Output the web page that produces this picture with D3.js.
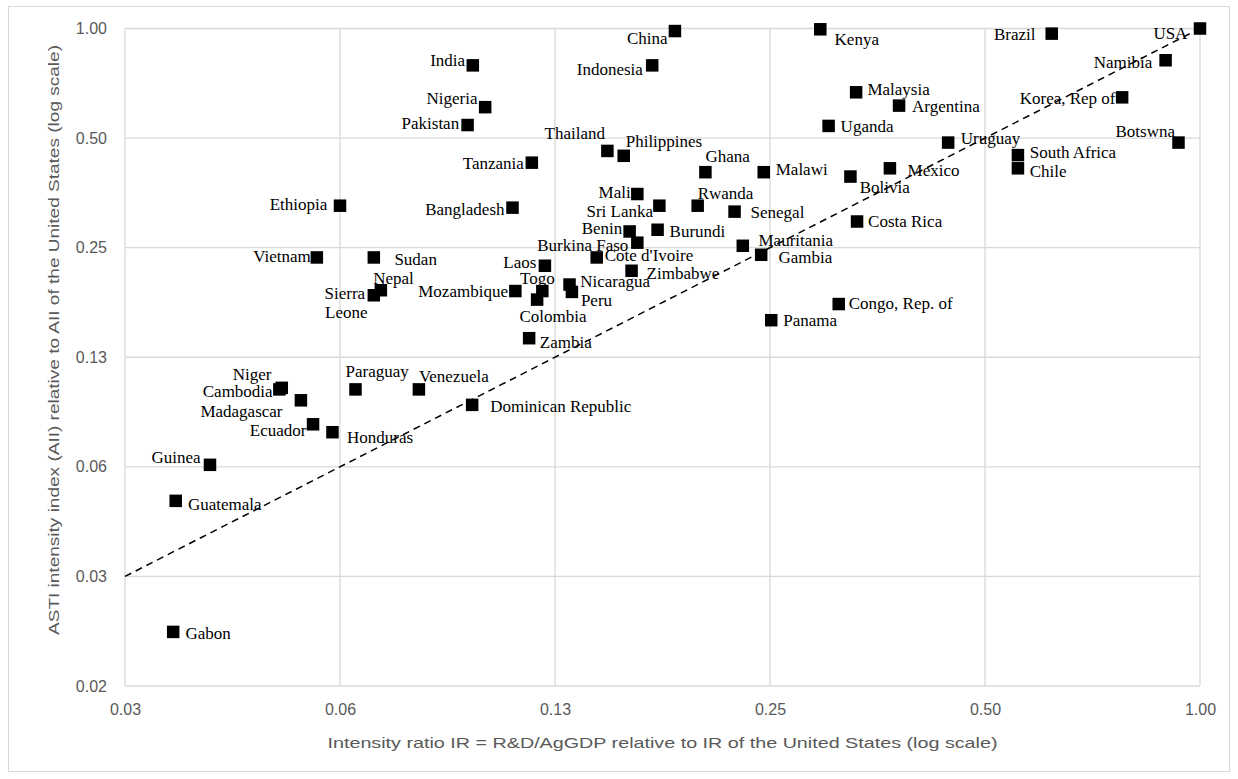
<!DOCTYPE html>
<html>
<head>
<meta charset="utf-8">
<script src="https://cdn.jsdelivr.net/npm/d3@7"></script>
<style>
  html, body { margin: 0; padding: 0; background: #ffffff; }
  svg { display: block; }
  .tick-label { font-family: "Liberation Sans", Arial, sans-serif; font-size: 16px; fill: #595959; }
  .axis-title { font-family: "Liberation Sans", Arial, sans-serif; font-size: 15px; fill: #595959; }
  .country { font-family: "Liberation Serif", "Times New Roman", serif; font-size: 17px; fill: #000000; }
</style>
</head>
<body>
<svg id="chart" width="1238" height="779"></svg>
<script>
// Countries with their R&D intensity ratio (IR, x) and ASTI intensity index (AII, y),
// both expressed relative to the United States.
const countries = [
  "USA", "China", "Indonesia", "Kenya", "Brazil", "Namibia", "Korea, Rep of",
  "Malaysia", "Argentina", "Uganda", "Uruguay", "Botswna", "South Africa", "Chile",
  "Ghana", "Malawi", "Mexico", "Bolivia", "India", "Nigeria", "Pakistan", "Tanzania",
  "Thailand", "Philippines", "Ethiopia", "Bangladesh", "Mali", "Sri Lanka", "Rwanda",
  "Senegal", "Burundi", "Benin", "Burkina Faso", "Mauritania", "Gambia", "Costa Rica",
  "Zimbabwe", "Congo, Rep. of", "Panama", "Vietnam", "Sudan", "Cote d'Ivoire", "Laos",
  "Nepal", "Sierra Leone", "Mozambique", "Togo", "Colombia", "Nicaragua", "Peru",
  "Zambia", "Niger", "Cambodia", "Madagascar", "Ecuador", "Honduras", "Paraguay",
  "Venezuela", "Dominican Republic", "Guinea", "Guatemala", "Gabon"
];

const intensityRatio = [
  1.000, 0.184, 0.171, 0.294, 0.620, 0.895, 0.778,
  0.330, 0.379, 0.302, 0.444, 0.933, 0.556, 0.556,
  0.203, 0.245, 0.368, 0.324, 0.0959, 0.0998, 0.0943, 0.116,
  0.148, 0.156, 0.0625, 0.109, 0.163, 0.175, 0.198,
  0.223, 0.174, 0.159, 0.163, 0.229, 0.243, 0.331,
  0.160, 0.312, 0.251, 0.0580, 0.0697, 0.143, 0.121,
  0.0713, 0.0697, 0.110, 0.120, 0.118, 0.131, 0.132,
  0.115, 0.0518, 0.0514, 0.0551, 0.0573, 0.0610, 0.0657,
  0.0806, 0.0957, 0.0411, 0.0368, 0.0365
];

const astiIndex = [
  1.000, 0.984, 0.792, 0.995, 0.968, 0.818, 0.647,
  0.668, 0.614, 0.540, 0.486, 0.486, 0.449, 0.413,
  0.403, 0.403, 0.413, 0.392, 0.792, 0.608, 0.543, 0.428,
  0.461, 0.447, 0.326, 0.322, 0.351, 0.326, 0.326,
  0.314, 0.280, 0.277, 0.258, 0.253, 0.239, 0.295,
  0.216, 0.175, 0.158, 0.235, 0.235, 0.235, 0.223,
  0.191, 0.185, 0.190, 0.190, 0.180, 0.198, 0.189,
  0.141, 0.103, 0.102, 0.0952, 0.0818, 0.0778, 0.102,
  0.102, 0.0925, 0.0633, 0.0504, 0.0220
];

// Axis ticks (powers of two) and their printed labels
const xTickValues = [1/32, 1/16, 1/8, 1/4, 1/2, 1];
const xTickLabels = ["0.03", "0.06", "0.13", "0.25", "0.50", "1.00"];
const yTickValues = [1/64, 1/32, 1/16, 1/8, 1/4, 1/2, 1];
const yTickLabels = ["0.02", "0.03", "0.06", "0.13", "0.25", "0.50", "1.00"];

const xTitle = "Intensity ratio IR = R&D/AgGDP relative to IR of the United States (log scale)";
const yTitle = "ASTI intensity index (AII) relative to AII of the United States (log scale)";

// Label placement next to each marker: [dx, dy, text-anchor]
const labelPlacement = {
  "USA": [-12.6, 4.3, "end"], "China": [-7.4, 7.3, "end"], "Indonesia": [-9.3, 4, "end"],
  "Kenya": [14.3, 10, "start"], "Brazil": [-16.2, 0.6, "end"], "Namibia": [-13.4, 1.4, "end"],
  "Korea, Rep of": [-6.6, 1, "end"], "Malaysia": [11.3, -3, "start"], "Argentina": [13, 0, "start"],
  "Uganda": [12, 0, "start"], "Uruguay": [12.6, -5, "start"], "Botswna": [-3.5, -12, "end"],
  "South Africa": [11.8, -3.3, "start"], "Chile": [11.8, 2.7, "start"], "Ghana": [0, -16, "start"],
  "Malawi": [12, -3, "start"], "Mexico": [17.7, 1.7, "start"], "Bolivia": [9.3, 10.8, "start"],
  "India": [-7.7, -5.3, "end"], "Nigeria": [-7.6, -9, "end"], "Pakistan": [-8.4, -2.3, "end"],
  "Tanzania": [-8, 0, "end"], "Thailand": [-2.4, -17.7, "end"], "Philippines": [2, -15, "start"],
  "Ethiopia": [-12.7, -1.7, "end"], "Bangladesh": [-8, 1.3, "end"], "Mali": [-6.7, -1.5, "end"],
  "Sri Lanka": [-6.3, 5, "end"], "Rwanda": [0, -13, "start"], "Senegal": [16, 0, "start"],
  "Burundi": [12, 1.7, "start"], "Benin": [-7.3, -3, "end"], "Burkina Faso": [-9, 2, "end"],
  "Mauritania": [15.7, -6, "start"], "Gambia": [17.3, 2, "start"], "Costa Rica": [11, 0, "start"],
  "Zimbabwe": [15, 2, "start"], "Congo, Rep. of": [10, -1.3, "start"], "Panama": [12, 0, "start"],
  "Vietnam": [-6, -1, "end"], "Sudan": [20.6, 1.3, "start"], "Cote d'Ivoire": [8, -2.5, "start"],
  "Laos": [-8.6, -4, "end"], "Nepal": [-7.7, -12.3, "start"],
  "Mozambique": [-7.4, 0, "end"], "Togo": [-22.3, -13.3, "start"], "Colombia": [-17.7, 16, "start"],
  "Nicaragua": [10.7, -3.3, "start"], "Peru": [9, 8, "start"], "Zambia": [10.7, 3.6, "start"],
  "Niger": [-10.3, -14.2, "end"], "Cambodia": [-6.7, 1.5, "end"], "Madagascar": [-18.4, 10.4, "end"],
  "Ecuador": [-6.6, 5.7, "end"], "Honduras": [14.6, 4.4, "start"], "Paraguay": [-10, -18, "start"],
  "Venezuela": [0, -13.6, "start"], "Dominican Republic": [18, 0.7, "start"],
  "Guinea": [-9.3, -7.3, "end"], "Guatemala": [12.3, 3, "start"], "Gabon": [12.3, 0.7, "start"]
};
// Names broken over two lines: each line has its own [text, dx, dy, anchor]
const multiLineLabels = {
  "Sierra Leone": [["Sierra", -8.7, -2, "end"], ["Leone", -48.7, 17, "start"]]
};

const svg = d3.select("#chart");
const plot = { left: 125, right: 1200, top: 28.5, bottom: 686 };

// Outer chart frame
svg.append("rect")
  .attr("x", 8.5).attr("y", 6.5).attr("width", 1221).attr("height", 765)
  .attr("fill", "#ffffff").attr("stroke", "#d9d9d9").attr("stroke-width", 1);

const x = d3.scaleLog().base(2).domain([1/32, 1]).range([plot.left, plot.right]);
const y = d3.scaleLog().base(2).domain([1/64, 1]).range([plot.bottom, plot.top]);

// Gridlines
const grid = svg.append("g").attr("stroke", "#d9d9d9").attr("stroke-width", 1.3);
grid.selectAll("line.v").data(xTickValues).join("line")
  .attr("x1", d => x(d)).attr("x2", d => x(d))
  .attr("y1", plot.top).attr("y2", plot.bottom);
grid.selectAll("line.h").data(yTickValues).join("line")
  .attr("x1", plot.left).attr("x2", plot.right)
  .attr("y1", d => y(d)).attr("y2", d => y(d));

// Axes (labels only; lines come from the grid)
const xAxis = d3.axisBottom(x).tickValues(xTickValues)
  .tickFormat((d, i) => xTickLabels[i]).tickSize(0).tickPadding(18);
const gx = svg.append("g").attr("transform", `translate(0,${plot.bottom})`).call(xAxis);
gx.select(".domain").remove();
gx.selectAll("text").attr("class", "tick-label").attr("font-family", null).attr("font-size", null);

const yAxis = d3.axisLeft(y).tickValues(yTickValues)
  .tickFormat((d, i) => yTickLabels[i]).tickSize(0).tickPadding(18);
const gy = svg.append("g").attr("transform", `translate(${plot.left},0)`).call(yAxis);
gy.select(".domain").remove();
gy.selectAll("text").attr("class", "tick-label").attr("font-family", null).attr("font-size", null);

// Axis titles
svg.append("text").attr("class", "axis-title")
  .attr("x", (plot.left + plot.right) / 2).attr("y", 743).attr("dy", "0.35em")
  .attr("text-anchor", "middle")
  .attr("textLength", 670).attr("lengthAdjust", "spacingAndGlyphs")
  .text(xTitle);
svg.append("text").attr("class", "axis-title")
  .attr("transform", "translate(54,340) rotate(-90)")
  .attr("dy", "0.35em").attr("text-anchor", "middle")
  .attr("textLength", 590).attr("lengthAdjust", "spacingAndGlyphs")
  .text(yTitle);

// Parity line IR = AII
svg.append("line")
  .attr("x1", x(1/32)).attr("y1", y(1/32))
  .attr("x2", x(1)).attr("y2", y(1))
  .attr("stroke", "#000000").attr("stroke-width", 1.5)
  .attr("stroke-dasharray", "7,5");

const points = countries.map((name, i) => ({ name, ir: intensityRatio[i], aii: astiIndex[i] }));

// Square markers
const size = 12.5;
svg.append("g").selectAll("rect").data(points).join("rect")
  .attr("x", d => x(d.ir) - size / 2)
  .attr("y", d => y(d.aii) - size / 2)
  .attr("width", size).attr("height", size)
  .attr("fill", "#000000");

// Country labels
const labels = svg.append("g");
points.forEach(d => {
  const cx = x(d.ir), cy = y(d.aii);
  const lines = multiLineLabels[d.name]
    || [[d.name].concat(labelPlacement[d.name] || [8, 0, "start"])];
  lines.forEach(([txt, dx, dy, anchor]) => {
    labels.append("text").attr("class", "country")
      .attr("x", cx + dx).attr("y", cy + dy).attr("dy", "0.35em")
      .attr("text-anchor", anchor)
      .text(txt);
  });
});
</script>
</body>
</html>
